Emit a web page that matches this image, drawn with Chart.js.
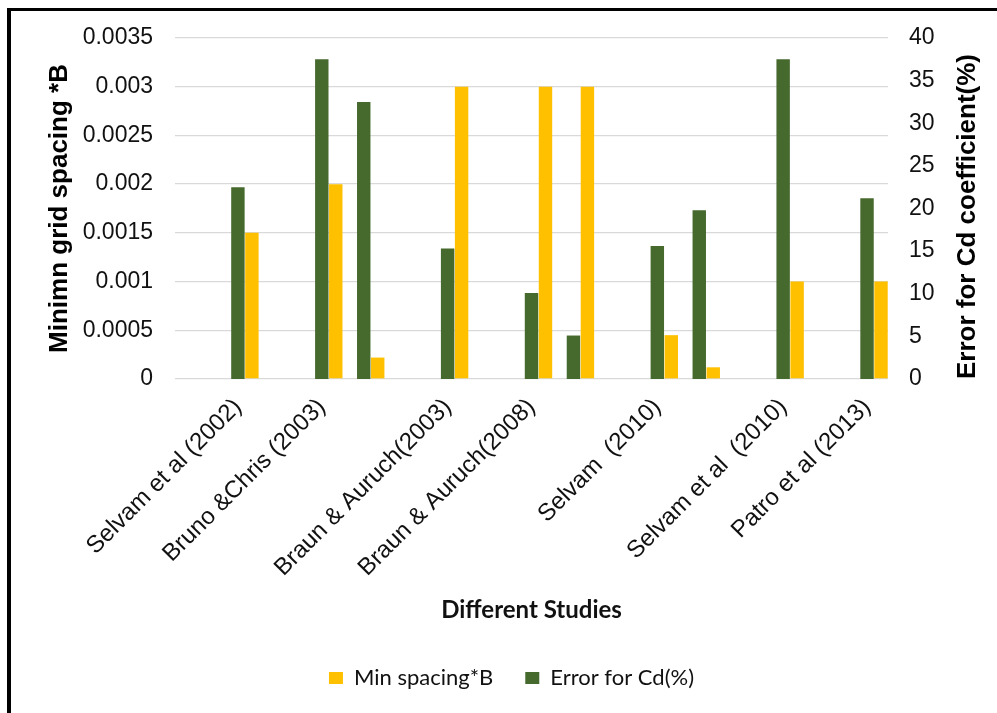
<!DOCTYPE html>
<html>
<head>
<meta charset="utf-8">
<title>Different Studies</title>
<script src="https://cdn.jsdelivr.net/npm/chart.js@4.4.1/dist/chart.umd.min.js"></script>
<style>
  html, body { margin: 0; padding: 0; background: #fff; overflow: hidden; }
  #wrap { position: relative; width: 997px; height: 713px; }
  #frame { position: absolute; left: 7px; top: 8px; width: 1200px; height: 900px;
           border-left: 4px solid #000; border-top: 3px solid #000; }
  canvas { position: absolute; left: 0; top: 0; }
</style>
</head>
<body>
<div id="wrap">
  <div id="frame"></div>
  <canvas id="chart" width="997" height="713"></canvas>
</div>
<script>
// studies (empty strings = unlabeled slots in the original sheet)
const categories = ['', 'Selvam et al (2002)', '', 'Bruno &Chris (2003)', '', '',
  'Braun & Auruch(2003)', '', 'Braun & Auruch(2008)', '', '', 'Selvam  (2010)', '', '',
  'Selvam et al  (2010)', '', 'Patro et al (2013)'];

const minSpacing = [null, 0.0015, null, 0.002, 0.00022, null, 0.003, null, 0.003, 0.003,
  null, 0.00045, 0.00012, null, 0.001, null, 0.001];
const errorCd = [null, 22.5, null, 37.5, 32.5, null, 15.3, null, 10.1, 5.1,
  null, 15.6, 19.8, null, 37.5, null, 21.2];
// empty series, only there so the green bar sits in the middle of its slot
const spacer = categories.map(() => null);

const leftTicks = ['0', '0.0005', '0.001', '0.0015', '0.002', '0.0025', '0.003', '0.0035'];
const rightTicks = ['0', '5', '10', '15', '20', '25', '30', '35', '40'];

const leftTitle = 'Minimn grid spacing *B';
const rightTitle = 'Error for Cd coefficient(%)';
const xTitle = 'Different Studies';

const GREEN = '#46692e';
const YELLOW = '#ffc000';
const ARIAL = '"Liberation Sans", Arial, sans-serif';
const CALIBRI = 'Lato, "Open Sans", sans-serif';

// chart.js puts a right axis title top-to-bottom, the original reads bottom-to-top
const rightTitlePlugin = {
  id: 'rightTitle',
  afterDraw(chart) {
    const s = chart.scales.y2;
    const ctx = chart.ctx;
    ctx.save();
    ctx.translate(s.left + 79.5, (s.top + s.bottom) / 2 + 8);
    ctx.rotate(-Math.PI / 2);
    ctx.font = 'bold 26px ' + ARIAL;
    ctx.fillStyle = '#000';
    ctx.textAlign = 'center';
    ctx.textBaseline = 'middle';
    ctx.fillText(rightTitle, 0, 0);
    ctx.restore();
  }
};

new Chart(document.getElementById('chart'), {
  type: 'bar',
  data: {
    labels: categories,
    datasets: [
      { label: 'spacer', data: spacer, yAxisID: 'y', stack: 's0', backgroundColor: 'rgba(0,0,0,0)' },
      { label: 'Error for Cd(%)', data: errorCd, yAxisID: 'y2', stack: 's1', backgroundColor: GREEN },
      { label: 'Min spacing*B', data: minSpacing, yAxisID: 'y', stack: 's2', backgroundColor: YELLOW }
    ]
  },
  options: {
    responsive: false,
    devicePixelRatio: 1,
    animation: false,
    layout: { padding: { left: 26, right: 0, top: 38, bottom: 14 } },
    datasets: { bar: { categoryPercentage: 1.0, barPercentage: 0.96 } },
    plugins: {
      tooltip: { enabled: false },
      legend: {
        position: 'bottom',
        labels: {
          font: { family: CALIBRI, size: 22 },
          color: '#111',
          boxWidth: 14,
          boxHeight: 12,
          padding: 32,
          filter: item => item.datasetIndex !== 0,
          sort: (a, b) => b.datasetIndex - a.datasetIndex
        }
      }
    },
    scales: {
      x: {
        grid: { display: false },
        border: { display: false },
        ticks: {
          autoSkip: false, minRotation: 45, maxRotation: 45, padding: 6,
          color: '#111', font: { family: ARIAL, size: 24 }
        },
        title: {
          display: true, text: xTitle, color: '#111',
          font: { family: CALIBRI, size: 24, weight: 'bold' },
          padding: { top: 0, bottom: 10.4 }
        },
        afterFit: s => { s.height = 256; }
      },
      y: {
        position: 'left',
        min: 0, max: 0.0035,
        grid: { color: '#d9d9d9', lineWidth: 1.3, drawTicks: false },
        border: { display: false },
        ticks: {
          stepSize: 0.0005, padding: 22, color: '#111',
          font: { family: ARIAL, size: 23 },
          callback: (v, i) => leftTicks[i]
        },
        title: {
          display: true, text: leftTitle, color: '#000',
          font: { family: ARIAL, size: 26, weight: 'bold' },
          padding: { top: 18.4, bottom: 0 }
        },
        afterFit: s => { s.width = 149; }
      },
      y2: {
        position: 'right',
        min: 0, max: 40,
        grid: { display: false, drawTicks: false },
        border: { display: false },
        ticks: {
          stepSize: 5, padding: 21, color: '#111',
          font: { family: ARIAL, size: 23 },
          callback: (v, i) => rightTicks[i]
        },
        afterFit: s => { s.width = 109; }
      }
    }
  },
  plugins: [rightTitlePlugin]
});
</script>
</body>
</html>
